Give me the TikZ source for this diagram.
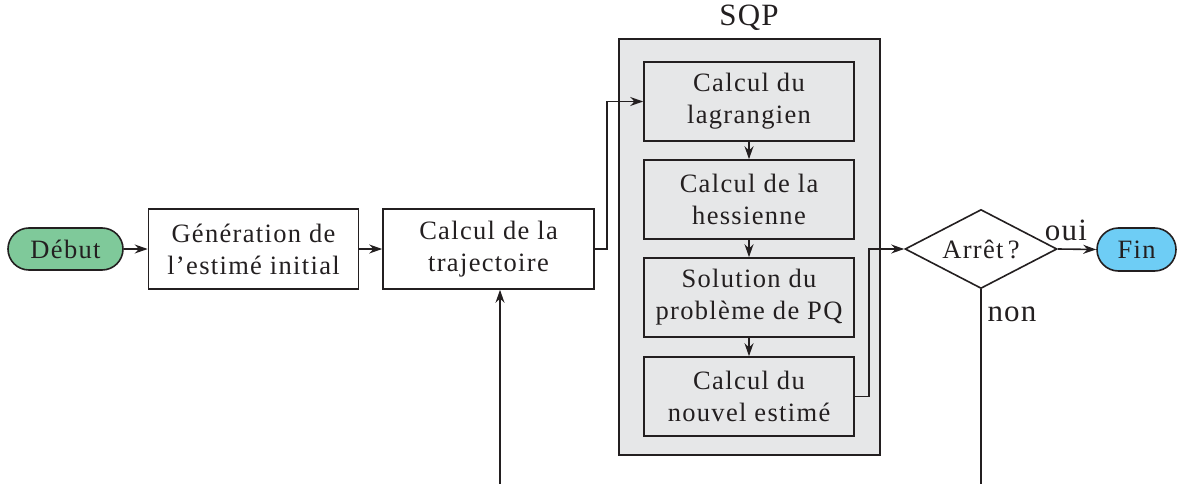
\documentclass[tikz,border=0pt]{standalone}
\usepackage{fontspec}
\setmainfont{Liberation Serif}
\usetikzlibrary{arrows.meta,shapes.geometric,shapes.misc}
\definecolor{ink}{RGB}{35,31,32}
\definecolor{startgreen}{RGB}{127,201,154}
\definecolor{endblue}{RGB}{110,205,245}
\definecolor{sqpgray}{RGB}{230,231,232}
\tikzset{
  every node/.style={font=\fontsize{26.5}{32}\selectfont\addfontfeature{LetterSpace=5}, text=ink},
  biglabel/.style={font=\fontsize{31}{36}\selectfont\addfontfeature{LetterSpace=4}},
  box/.style={draw=ink, line width=1.6pt, minimum width=210pt, minimum height=80pt, inner sep=0pt, align=center},
  inbox/.style={box, fill=sqpgray, minimum height=79pt},
  term/.style={draw=ink, line width=1.6pt, rounded rectangle, inner sep=0pt, minimum height=42pt},
  decision/.style={draw=ink, line width=1.6pt, diamond, inner sep=0pt, minimum width=152pt, minimum height=79pt, shape aspect=1.92},
  conn/.style={draw=ink, line width=1.6pt, -{Stealth[length=13pt,width=9pt]}},
  plain/.style={draw=ink, line width=1.6pt}
}
\begin{document}
\begin{tikzpicture}[x=1pt,y=-1pt]
\useasboundingbox (0,0) rectangle (1180,484);
% SQP container
\node[draw=ink, line width=1.6pt, fill=sqpgray, minimum width=261pt, minimum height=416pt, inner sep=0pt] (sqp) at (749.5,247) {};
\node[biglabel] (sqplabel) at (749,18) {SQP};
% main nodes
\node[term, fill=startgreen, minimum width=115pt] (debut) at (65.5,249) {Début};
\node[box] (gen) at (253.5,249) {Génération de\\l’estimé initial};
\node[box, minimum width=211pt] (traj) at (488.5,249) {Calcul de la\\trajectoire};
\node[inbox] (lag) at (749,101.5) {Calcul du\\lagrangien};
\node[inbox] (hes) at (749,199.5) {Calcul de la\\hessienne};
\node[inbox] (pq) at (749,297.5) {Solution du\\problème de PQ};
\node[inbox] (nouv) at (749,396.5) {Calcul du\\nouvel estimé};
\node[decision] (arret) at (981,249) {Arrêt\,?};
\node[term, fill=endblue, minimum width=79pt, minimum height=43pt] (fin) at (1136.5,249.5) {Fin};
% labels
\node[biglabel] (oui) at (1066,230) {oui};
\node[biglabel] (non) at (1012,314) {non};
% loose ends at the bottom edge
\coordinate (trajin) at (500,484);
\coordinate (nonout) at (981,484);
% connectors
\draw[conn] (debut.east) -- (gen.west);
\draw[conn] (gen.east) -- (traj.west);
\draw[conn] (traj.east) -- (607,249) -- (607,101.5) -- (lag.west);
\draw[conn] (lag.south) -- (hes.north);
\draw[conn] (hes.south) -- (pq.north);
\draw[conn] (pq.south) -- (nouv.north);
\draw[conn] (nouv.east) -- (869,396.5) -- (869,249) -- (arret.west);
\draw[conn] (arret.east) -- (fin.west);
\draw[plain] (arret.south) -- (nonout);
\draw[conn] (trajin) -- (trajin |- traj.south);
\end{tikzpicture}
\end{document}
